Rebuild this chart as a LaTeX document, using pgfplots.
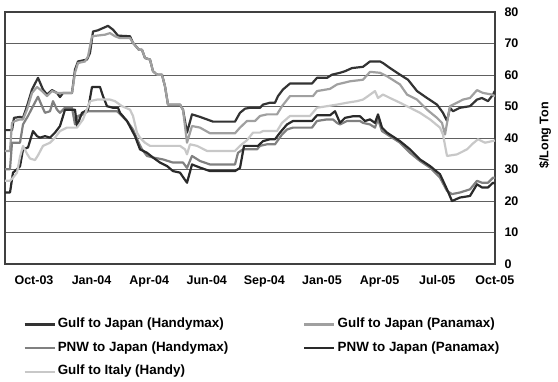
\documentclass[border=0pt]{standalone}
\usepackage{fontspec}
\setmainfont{Liberation Sans}
\usepackage{pgfplots}
\pgfplotsset{compat=1.18}
\definecolor{cA}{HTML}{333333}
\definecolor{cB}{HTML}{A0A0A0}
\definecolor{cC}{HTML}{808080}
\definecolor{cD}{HTML}{2A2A2A}
\definecolor{cE}{HTML}{C8C8C8}
\definecolor{gridc}{HTML}{606060}
\begin{document}
\begin{tikzpicture}
\path[use as bounding box] (-5pt,-118pt) rectangle (553pt,264pt);
\begin{axis}[
  at={(0pt,0pt)}, anchor=south west,
  scale only axis, width=490pt, height=252pt,
  xmin=5, xmax=495, ymin=0, ymax=80,
  xtick={34,91.6,149.2,206.8,264.4,322,379.6,437.2,494.8},
  xticklabels={Oct-03,Jan-04,Apr-04,Jun-04,Sep-04,Jan-05,Apr-05,Jul-05,Oct-05},
  ytick={0,10,...,80},
  yticklabel pos=right,
  major tick length=0pt,
  ymajorgrids,
  grid style={gridc, line width=0.8pt},
  axis line style={black!75, line width=1.2pt},
  /pgf/number format/assume math mode=true,
  tick label style={font=\fontsize{12.5}{14}\selectfont\bfseries},
  xticklabel style={yshift=-8pt},
  yticklabel style={xshift=6pt, anchor=west},
  ylabel={\$/Long Ton},
  ylabel style={at={(axis description cs:1.102,0.51)}, anchor=center, font=\fontsize{12.5}{14}\selectfont\bfseries},
  legend columns=2,
  legend cell align=left,
  legend image code/.code={\draw[#1, line width=2.4pt] (0pt,0pt) -- (30pt,0pt);},
  legend style={draw=none, fill=none, at={(axis description cs:0.031,-0.198)}, anchor=north west,
    font=\fontsize{13.4}{15}\selectfont\bfseries,
    nodes={inner xsep=2pt, inner ysep=2pt, text height=9.5pt, text depth=3pt},
    row sep=7.2pt,
    /tikz/every even column/.append style={column sep=73pt}},
  every axis plot/.append style={line width=2.2pt, line join=round, mark=none},
]
\addplot[cA] coordinates {(5,42.5)(12,42.5)(14,46.4)(20,46.7)(23,46.4)(27,50.1)(32,55.4)(38,59.1)(43,55.4)(47,53.8)(52,55.2)(57,54.3)(60,53)(63,54.3)(72,54.3)(75,61.7)(78,64.3)(87,64.9)(90,67)(93,73.8)(98,74.2)(103,74.9)(108,75.6)(113,74.4)(118,72.5)(130,72.3)(133,70.2)(139,68)(142,68)(145,65.4)(150,64.9)(153,61.2)(157,60.1)(162,60.1)(165,56.4)(168,50.6)(180,50.6)(183,49)(187,41.7)(192,47.5)(200,46.7)(207,45.9)(213,45.2)(235,45.2)(240,48)(245,49.3)(250,49.6)(260,49.6)(263,50.6)(270,51.2)(275,51.2)(278,53.3)(283,55.4)(290,57.3)(312,57.3)(317,59.1)(327,59.1)(332,60.1)(340,60.7)(345,61.2)(352,62.2)(363,62.6)(370,64.3)(380,64.3)(383,63.8)(390,62.2)(400,60.1)(408,58.5)(417,54.9)(427,52.7)(437,50.6)(443,48)(447,45.4)(450,49.6)(453,48.5)(460,49.6)(470,50.1)(477,52.2)(482,52.7)(488,51.7)(493,53.8)(495,55)};
\addlegendentry{Gulf to Japan (Handymax)}
\addplot[cB] coordinates {(5,35.9)(10,35.9)(12,44.8)(15,45.4)(20,45.9)(23,45.9)(27,49)(32,54.3)(37,56.2)(42,54.9)(47,53.3)(52,54.9)(57,54.3)(72,54.3)(75,60.7)(78,63.8)(85,64.3)(88,65.9)(92,72.3)(97,72.5)(105,72.8)(110,73.3)(115,72.3)(120,71.7)(130,71.7)(133,70.2)(139,68)(142,68)(145,65.4)(150,64.9)(153,61.2)(157,60.1)(162,60.1)(165,56.4)(168,50.6)(180,50.6)(183,49)(187,38.5)(192,43.8)(200,43.3)(210,41.5)(235,41.5)(240,43.3)(247,45.4)(255,45.4)(260,47)(267,47.5)(277,47.5)(282,50.1)(290,53.3)(313,53.3)(317,54.9)(330,55.6)(337,57)(350,58)(363,58.5)(370,61)(380,60.7)(387,59.6)(400,57)(407,53.8)(417,52.2)(427,49)(437,46.4)(442,44.8)(445,41.1)(450,50.1)(457,51.2)(463,52.2)(470,52.7)(477,55.2)(483,54.3)(492,53.8)(495,53.2)};
\addlegendentry{Gulf to Japan (Panamax)}
\addplot[cC] coordinates {(5,30.1)(10,30.1)(12,38.5)(20,38.5)(23,44.3)(28,47)(33,50.1)(38,53.1)(42,50.1)(45,48)(50,48.5)(53,51.7)(57,49)(60,48)(65,49.6)(72,49.6)(75,44.3)(78,47)(83,47.5)(88,48.5)(117,48.5)(122,47)(127,45.4)(133,42.7)(138,39)(142,36.4)(147,34.3)(153,33.8)(163,33.2)(173,32.2)(183,32.2)(187,30.5)(192,34.3)(200,32.7)(210,31.6)(235,31.6)(238,35.3)(243,36.4)(257,36.4)(260,37.5)(267,38)(275,38)(282,41.1)(287,42.7)(293,43.3)(312,43.3)(317,45.4)(327,45.9)(333,45.9)(337,44.8)(340,44.3)(347,45.4)(360,45.4)(363,44.8)(370,44.3)(375,43.3)(378,46)(382,42.2)(400,38.5)(410,35.3)(420,32.7)(430,30.6)(440,27.4)(447,23.2)(452,22.2)(460,22.7)(470,23.7)(477,26.4)(482,25.8)(488,25.8)(493,27.4)(495,27.4)};
\addlegendentry{PNW to Japan (Handymax)}
\addplot[cD] coordinates {(5,22.7)(10,22.7)(13,29)(17,30.1)(20,31)(23,36.4)(28,37)(33,42.2)(37,40.6)(40,40.1)(45,40.6)(50,40.1)(55,41.7)(60,43.8)(65,49)(75,49)(77,43.8)(82,48)(88,49)(92,56.2)(100,56.2)(103,53.3)(107,50.1)(113,49.6)(118,49.6)(120,48)(127,45.4)(135,40.6)(140,36.4)(147,35.3)(153,33.8)(160,32.2)(167,31.1)(173,29.5)(180,29)(187,25.8)(192,31.6)(200,30.6)(210,29.5)(235,29.5)(240,30.5)(244,37.5)(258,37.5)(263,39)(270,39.6)(275,39.6)(280,41.7)(287,44.3)(293,45.4)(312,45.4)(317,47.2)(330,47.2)(335,48.5)(340,44.8)(345,46.4)(353,46.9)(360,46.9)(365,45.4)(370,45.9)(375,44.8)(378,47.5)(382,43.3)(387,41.7)(400,39)(410,36.4)(420,33.2)(430,31.1)(440,28.5)(447,23.7)(452,20)(460,21.1)(470,21.6)(477,25.3)(482,24.3)(488,24.3)(493,25.8)(495,25.5)};
\addlegendentry{PNW to Japan (Panamax)}
\addplot[cE] coordinates {(5,26.4)(10,26.4)(13,27.4)(17,29)(20,34)(23,37.5)(27,35)(30,33.5)(35,33)(38,34.5)(43,37.5)(50,38.5)(55,40.1)(60,42.2)(67,43.3)(77,43.3)(83,45.9)(90,51.7)(97,52.2)(110,52.2)(115,51.7)(122,50.1)(130,49)(133,47)(137,41.7)(140,40.1)(145,38.5)(150,37.5)(180,37.5)(185,36.4)(187,34.8)(190,38)(197,37.5)(207,35.9)(235,35.9)(240,37.5)(247,39.3)(253,41.7)(260,41.7)(263,42.2)(277,42.2)(282,44.8)(290,47)(310,47)(317,49.6)(327,50.1)(337,50.6)(347,51.2)(357,51.7)(363,52.2)(368,53.3)(375,54.9)(378,52.7)(383,53.8)(390,52.7)(400,51.2)(410,49.6)(420,48)(430,45.9)(440,43.3)(443,41.1)(447,34.3)(457,34.8)(467,36.4)(472,38)(478,39.6)(485,38.5)(492,39)(495,39.2)};
\addlegendentry{Gulf to Italy (Handy)}
\end{axis}
\end{tikzpicture}
\end{document}
